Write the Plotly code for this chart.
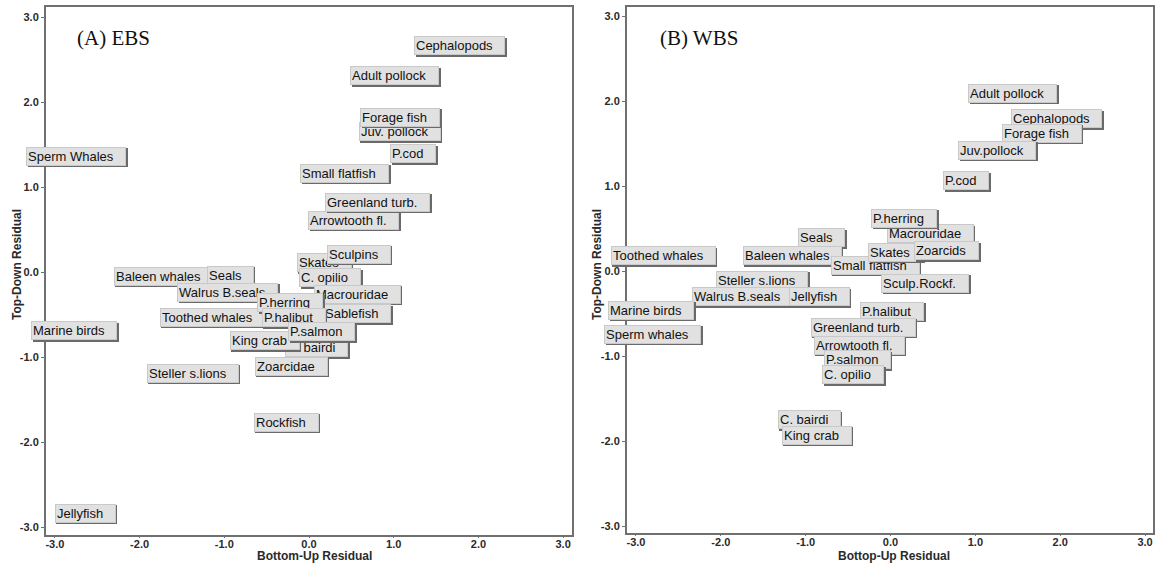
import plotly.graph_objects as go

# ---------------- data ----------------
# Panel A (EBS): label-centre positions (Bottom-Up residual, Top-Down residual)
names_a = ["Sperm Whales", "Baleen whales", "Seals", "Walrus B.seals", "Toothed whales",
           "Marine birds", "Steller s.lions", "Jellyfish", "Skates", "Sculpins", "C. opilio",
           "Macrouridae", "Sablefish", "P.herring", "P.halibut", "C. bairdi", "King crab",
           "P.salmon", "Zoarcidae", "Rockfish", "Cephalopods", "Adult pollock", "Juv. pollock",
           "Forage fish", "P.cod", "Small flatfish", "Arrowtooth fl.", "Greenland turb."]
x_a = [-2.75, -1.72, -0.93, -0.96, -1.14, -2.77, -1.37, -2.64, 0.18, 0.59, 0.25,
       0.57, 0.57, -0.22, -0.18, 0.09, -0.52, 0.15, -0.21, -0.27, 1.78, 1.01, 1.07,
       1.08, 1.23, 0.42, 0.53, 0.81]
y_a = [1.36, -0.05, -0.04, -0.24, -0.53, -0.69, -1.19, -2.84, 0.11, 0.21, -0.07,
       -0.26, -0.49, -0.36, -0.54, -0.89, -0.81, -0.70, -1.11, -1.77, 2.66, 2.31, 1.65,
       1.82, 1.39, 1.16, 0.61, 0.82]

# Panel B (WBS)
names_b = ["Toothed whales", "Seals", "Baleen whales", "Steller s.lions", "Walrus B.seals",
           "Jellyfish", "Marine birds", "Sperm whales", "Macrouridae", "P.herring",
           "Small flatfish", "Skates", "Zoarcids", "Sculp.Rockf.", "P.halibut",
           "Greenland turb.", "Arrowtooth fl.", "P.salmon", "C. opilio", "C. bairdi",
           "King crab", "Adult pollock", "Cephalopods", "Forage fish", "Juv.pollock", "P.cod"]
x_b = [-2.68, -0.81, -1.16, -1.51, -1.74, -0.84, -2.82, -2.80, 0.47, 0.16,
       -0.18, 0.06, 0.66, 0.41, 0.02, -0.32, -0.37, -0.39, -0.44, -0.96,
       -0.87, 1.44, 1.96, 1.78, 1.26, 0.89]
y_b = [0.18, 0.39, 0.18, -0.11, -0.30, -0.30, -0.46, -0.74, 0.44, 0.62,
       0.07, 0.22, 0.24, -0.14, -0.47, -0.66, -0.87, -1.04, -1.22, -1.75,
       -1.93, 2.09, 1.79, 1.62, 1.42, 1.06]

tick_vals = [-3.0, -2.0, -1.0, 0.0, 1.0, 2.0, 3.0]
tick_text = ["-3.0", "-2.0", "-1.0", "0.0", "1.0", "2.0", "3.0"]

panel_titles = ["(A) EBS", "(B) WBS"]
x_titles = ["Bottom-Up Residual", "Bottop-Up Residual"]
y_title = "Top-Down Residual"

# ---------------- figure ----------------
W, H = 1156, 563
fig = go.Figure()

# invisible point traces so the axes exist and the data go through them
fig.add_trace(go.Scatter(x=x_a, y=y_a, mode="markers", marker=dict(opacity=0),
                         xaxis="x", yaxis="y", hoverinfo="text", text=names_a, showlegend=False))
fig.add_trace(go.Scatter(x=x_b, y=y_b, mode="markers", marker=dict(opacity=0),
                         xaxis="x2", yaxis="y2", hoverinfo="text", text=names_b, showlegend=False))

tickfont = dict(family="Liberation Sans, Arial", size=11, color="#2a2a2a", weight="bold")
axis_common = dict(
    tickvals=tick_vals, ticktext=tick_text, showgrid=False, zeroline=False,
    showline=True, linecolor="#707070", linewidth=2, mirror=True,
    tickcolor="#707070", tickwidth=1, tickfont=tickfont,
)
xaxis_style = dict(ticks="outside", ticklen=1, ticklabelstandoff=-3, **axis_common)
yaxis_style = dict(ticks="outside", ticklen=3, **axis_common)

fig.update_layout(
    width=W, height=H,
    margin=dict(l=0, r=0, t=0, b=0),
    paper_bgcolor="white", plot_bgcolor="white",
    xaxis=dict(domain=[46 / W, 572 / W], range=[-3.105, 3.105], anchor="y", **xaxis_style),
    yaxis=dict(domain=[1 - 535 / H, 1 - 7 / H], range=[-3.094, 3.118], anchor="x", **yaxis_style),
    xaxis2=dict(domain=[627 / W, 1153 / W], range=[-3.106, 3.094], anchor="y2", **xaxis_style),
    yaxis2=dict(domain=[1 - 533 / H, 1 - 7 / H], range=[-3.08, 3.106], anchor="x2", **yaxis_style),
)

label_font = dict(family="Liberation Sans, Arial", size=13, color="#111111")
pad = "\u00a0\u00a0\u00a0"

annotations = []
for (names, xs, ys, xr, yr) in [(names_a, x_a, y_a, "x", "y"), (names_b, x_b, y_b, "x2", "y2")]:
    for n, xv, yv in zip(names, xs, ys):
        # shadow box (bottom-right)
        annotations.append(dict(
            x=xv, y=yv, xref=xr, yref=yr, text=n + pad, showarrow=False,
            xanchor="center", yanchor="middle", xshift=1.5, yshift=-1.5,
            font=dict(family=label_font["family"], size=13, color="rgba(0,0,0,0)"),
            bgcolor="#6a6a6a", bordercolor="#6a6a6a", borderwidth=1, borderpad=1, align="left"))
        # label box
        annotations.append(dict(
            x=xv, y=yv, xref=xr, yref=yr, text=n + pad, showarrow=False,
            xanchor="center", yanchor="middle",
            font=label_font,
            bgcolor="#e1e1e1", bordercolor="#c9c9c9", borderwidth=1, borderpad=1, align="left"))

# panel titles
for px, t in zip([75, 658], panel_titles):
    annotations.append(dict(x=px / W, y=1 - 38 / H, xref="paper", yref="paper", text=t,
                            showarrow=False, xanchor="left", yanchor="middle",
                            font=dict(family="Liberation Serif, Times New Roman", size=21, color="#111111")))
# axis titles
for cx, t in zip([314, 894], x_titles):
    annotations.append(dict(x=cx / W, y=1 - 556 / H, xref="paper", yref="paper", text=t,
                            showarrow=False, xanchor="center", yanchor="middle",
                            font=dict(family="Liberation Sans, Arial", size=12, color="#2a2a2a", weight="bold")))
for cx in [17, 597]:
    annotations.append(dict(x=cx / W, y=1 - 265 / H, xref="paper", yref="paper", text=y_title,
                            showarrow=False, xanchor="center", yanchor="middle", textangle=-90,
                            font=dict(family="Liberation Sans, Arial", size=12, color="#2a2a2a", weight="bold")))

fig.update_layout(annotations=annotations)
fig.write_html("out.html")
